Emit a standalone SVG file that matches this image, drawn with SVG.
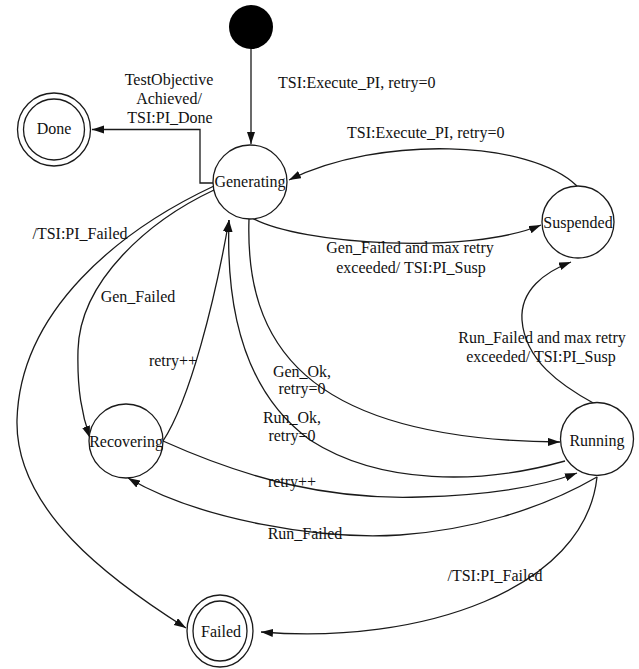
<svg xmlns="http://www.w3.org/2000/svg" width="639" height="669" viewBox="0 0 639 669">
<style>
.st{fill:#fff;stroke:#1a1a1a;stroke-width:1.3}
.cn{fill:none;stroke:#1a1a1a;stroke-width:1.3;marker-end:url(#ah)}
.t{font-family:'Liberation Serif','Times New Roman',Tinos,'DejaVu Serif',serif;font-size:16px;fill:#111}
.m{text-anchor:middle}
</style>
<defs>
<marker id="ah" markerUnits="userSpaceOnUse" markerWidth="13" markerHeight="9" refX="12" refY="4" orient="auto">
<path d="M0,0 L12,4 L0,8 z" fill="#111"/>
</marker>
</defs>
<rect width="639" height="669" fill="#fff"/>
<g id="connectors">
<path class="cn" d="M251,49 L251,144"/>
<path class="cn" d="M213,183 L200,183 L200,129.5 L92,129.5"/>
<path class="cn" d="M577,186 C530,140 380,135 289,180"/>
<path class="cn" d="M252,218 C300,245 470,255 541,225"/>
<path class="cn" d="M249,219 C245,340 300,440 560,442"/>
<path class="cn" d="M565,461 C480,485 380,485 310,440 C255,400 225,330 229,220"/>
<path class="cn" d="M214,190 C150,220 80,280 78,350 C77,390 82,415 90,438"/>
<path class="cn" d="M163,441 C190,400 215,300 229,220"/>
<path class="cn" d="M214,186 C120,230 20,310 17,420 C15,510 110,580 186,628"/>
<path class="cn" d="M163,441 C250,480 330,500 420,497 C490,495 540,487 577,473"/>
<path class="cn" d="M597,477 C540,510 470,530 400,535 C320,540 200,520 128,478"/>
<path class="cn" d="M597,477 C585,590 420,645 261,632"/>
<path class="cn" d="M595,404 C560,385 525,360 522,320 C520,290 545,272 571,262"/>
</g>
<g id="labels" class="t" font-family="Liberation Serif, serif">
<text x="278" y="88">TSI:Execute_PI, retry=0</text>
<text class="m" x="169" y="85">TestObjective</text>
<text class="m" x="169" y="104">Achieved/</text>
<text class="m" x="170" y="123">TSI:PI_Done</text>
<text x="347" y="138">TSI:Execute_PI, retry=0</text>
<text class="m" x="410" y="253">Gen_Failed and max retry</text>
<text class="m" x="411" y="273">exceeded/ TSI:PI_Susp</text>
<text class="m" x="80" y="239">/TSI:PI_Failed</text>
<text class="m" x="138" y="302">Gen_Failed</text>
<text class="m" x="173" y="366">retry++</text>
<text class="m" x="302" y="377">Gen_Ok,</text>
<text class="m" x="302" y="394">retry=0</text>
<text class="m" x="292" y="423">Run_Ok,</text>
<text class="m" x="292" y="441">retry=0</text>
<text class="m" x="542" y="343">Run_Failed and max retry</text>
<text class="m" x="541" y="362">exceeded/ TSI:PI_Susp</text>
<text class="m" x="292" y="487">retry++</text>
<text class="m" x="305" y="539">Run_Failed</text>
<text class="m" x="495" y="581">/TSI:PI_Failed</text>
</g>
<g id="initial"><circle cx="251" cy="27" r="22" fill="#000"/></g>
<g id="generating"><circle class="st" cx="250" cy="182" r="37"/><text class="t m" x="250" y="187">Generating</text></g>
<g id="done"><circle class="st" cx="54" cy="129.5" r="36.5"/><circle class="st" cx="54" cy="129.5" r="30.5"/><text class="t m" x="54" y="134">Done</text></g>
<g id="suspended"><circle class="st" cx="578" cy="222" r="36"/><text class="t m" x="578" y="228">Suspended</text></g>
<g id="running"><circle class="st" cx="597" cy="439" r="36.5"/><text class="t m" x="597" y="446">Running</text></g>
<g id="recovering"><circle class="st" cx="126" cy="441" r="37"/><text class="t m" x="126" y="447">Recovering</text></g>
<g id="failed"><ellipse class="st" cx="220" cy="631" rx="33" ry="36"/><ellipse class="st" cx="220" cy="631" rx="27" ry="30"/><text class="t m" x="221" y="637">Failed</text></g>
</svg>
